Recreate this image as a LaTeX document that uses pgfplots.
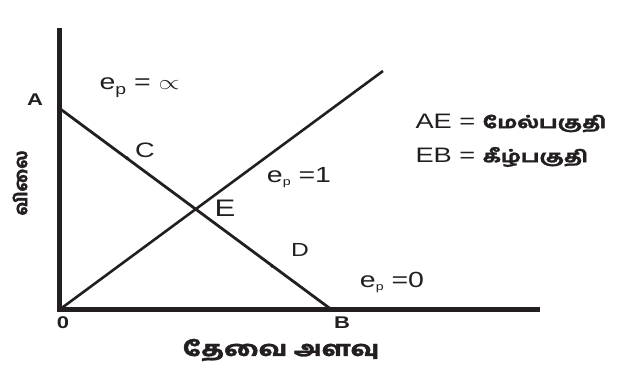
\documentclass[border=0pt]{standalone}
\usepackage{pgfplots}
\pgfplotsset{compat=1.18}
\usepackage{fontspec}
\setmainfont{Liberation Sans}
\newfontfamily\tamil[Script=Tamil, FakeBold=1.5]{Hind Madurai Bold}
\definecolor{ink}{HTML}{231F20}

\newcommand{\ep}{e\raisebox{-3bp}{\fontsize{11}{11}\selectfont p}}

\begin{document}
\begin{tikzpicture}
\begin{axis}[
    scale only axis,
    width=621bp, height=365bp,
    xmin=-59, xmax=562, ymin=-55, ymax=310,
    hide axis, clip=false,
]
\coordinate (bl) at (rel axis cs:0,0);
\coordinate (tr) at (rel axis cs:1,1);
% axes
\addplot[ink, line width=5bp, line join=miter] coordinates {(0,282) (0,0) (481,0)};
% demand line AB
\addplot[ink, line width=2.8bp] coordinates {(0,202) (273,0)};
% ray through origin
\addplot[ink, line width=2.6bp] coordinates {(0,0) (324,239)};
% points C and D
\addplot[ink, only marks, mark=*, mark size=1.6bp] coordinates {(68,152) (213,44)};

\begin{scope}[every node/.style={text=ink, xscale=1.3}]
\node[font=\bfseries\fontsize{17}{17}\selectfont] at (axis cs:-24,210) {A};
\node[font=\bfseries\fontsize{17}{17}\selectfont] at (axis cs:4,-13) {0};
\node[font=\bfseries\fontsize{17}{17}\selectfont] at (axis cs:283,-13) {B};
\node[font=\fontsize{21}{21}\selectfont] at (axis cs:86,160) {C};
\node[font=\fontsize{24}{24}\selectfont] at (axis cs:166,102) {E};
\node[font=\fontsize{19}{19}\selectfont] at (axis cs:241,60) {D};
\node[anchor=west, font=\fontsize{22}{22}\selectfont] at (axis cs:36,222)
  {e\raisebox{-5bp}{\fontsize{15}{15}\selectfont p} = $\propto$};
\node[font=\fontsize{22}{22}\selectfont] at (axis cs:240,132) {\ep\ =1};
\node[font=\fontsize{22}{22}\selectfont] at (axis cs:333,28) {\ep\ =0};
\node[anchor=west, font=\fontsize{21}{21}\selectfont] at (axis cs:352,187)
  {AE = {\tamil\fontsize{16.5}{17}\selectfont மேல்பகுதி}};
\node[anchor=west, font=\fontsize{21}{21}\selectfont] at (axis cs:352,153)
  {EB = {\tamil\fontsize{16.5}{17}\selectfont கீழ்பகுதி}};
\node[font=\tamil\fontsize{21}{21}\selectfont] at (axis cs:222,-40) {தேவை அளவு};
\end{scope}
\node[text=ink, rotate=90, font=\tamil\fontsize{18}{18}\selectfont] at (axis cs:-39,127) {விலை};
\end{axis}
\pgfresetboundingbox
\useasboundingbox (bl) rectangle (tr);
\end{tikzpicture}
\end{document}
